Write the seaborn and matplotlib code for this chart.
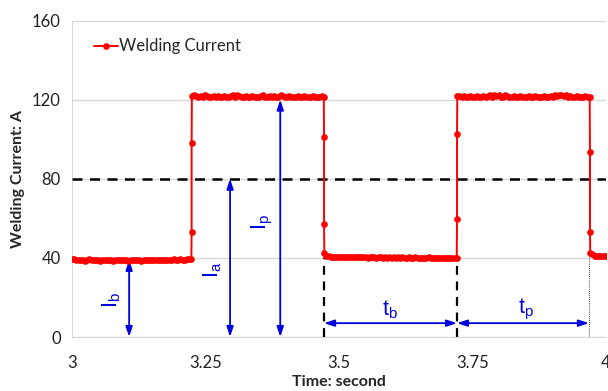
import numpy as np
import pandas as pd
import matplotlib
matplotlib.use("Agg")
import matplotlib.pyplot as plt
import seaborn as sns

# ---------------- data ----------------
base1_vals = [39.4, 39.2, 39.0, 38.8, 39.1, 38.9, 38.6, 38.9, 39.2, 38.8, 38.7, 39.0, 38.9, 38.6,
              38.8, 39.1, 38.7, 38.9, 38.8, 38.6, 38.9, 39.0, 38.7, 38.8, 39.1, 38.9, 38.6, 38.8,
              38.9, 38.7, 39.0, 38.8, 38.6, 38.9, 39.1, 38.8, 38.7, 38.9, 39.0, 38.8, 38.9, 39.1,
              38.8, 38.7, 39.0, 38.9, 39.1, 39.2, 38.9, 39.0, 39.2, 39.0, 39.1, 39.3, 39.2, 39.4]
rise1_vals = [53.0, 98.0]
peak1_vals = [121.8, 122.2, 121.6, 121.5, 121.7, 121.4, 122.3, 121.6, 121.5, 121.4, 121.7, 121.5,
              121.6, 121.4, 121.5, 121.8, 121.5, 121.4, 121.6, 122.4, 121.5, 122.3, 121.6, 121.4,
              121.5, 121.7, 121.5, 121.4, 121.6, 121.5, 121.5, 121.4, 121.6, 122.3, 121.5, 121.4,
              121.7, 121.5, 121.6, 121.5, 121.4, 122.2, 121.6, 121.5, 121.4, 121.6, 121.5, 121.4,
              121.5, 121.6, 121.4, 121.5, 121.6, 121.5, 121.4, 121.5, 121.6, 121.5, 121.4, 121.5,
              121.6, 121.5]
fall1_vals = [101.0, 57.0]
base2_vals = [42.3, 41.2, 40.8, 40.6, 40.5, 40.6, 40.4, 40.5, 40.3, 40.4, 40.5, 40.3, 40.4, 40.2,
              40.3, 40.4, 40.2, 40.3, 40.4, 40.2, 40.1, 40.3, 40.2, 40.4, 40.1, 40.2, 40.3, 40.1,
              40.2, 40.0, 40.3, 40.1, 40.2, 39.9, 40.2, 40.1, 40.3, 40.0, 40.1, 40.2, 40.0, 40.1,
              40.2, 40.0, 40.1, 39.9, 40.1, 40.0, 40.2, 40.0, 40.1, 39.9, 40.0, 40.1, 40.0, 39.9,
              40.0, 40.1, 40.0, 39.9, 40.0, 40.1]
rise2_vals = [59.7, 102.6]
peak2_vals = [121.6, 121.9, 121.5, 121.6, 121.4, 121.5, 121.7, 121.5, 121.4, 121.6, 121.5, 121.4,
              121.6, 121.5, 121.7, 122.3, 121.5, 122.4, 121.6, 122.2, 121.5, 121.4, 122.3, 121.6,
              121.5, 121.4, 121.6, 121.5, 121.4, 121.6, 121.5, 121.4, 121.5, 121.6, 121.4, 121.5,
              121.6, 121.5, 121.4, 121.5, 121.6, 121.5, 121.4, 121.6, 121.5, 122.2, 121.6, 122.4,
              122.3, 121.6, 122.2, 121.5, 121.6, 121.4, 121.5, 121.6, 121.5, 121.4, 121.5, 121.6,
              121.5, 121.4]
fall2_vals = [93.5, 53.0]
end_vals = [42.6, 41.8, 41.2, 41.0, 40.8, 40.9, 41.0, 40.9]

# segment time spans (s)
base1_span = (3.000, 3.2235)
rise1_time = 3.224
peak1_span = (3.2245, 3.4715)
fall1_time = 3.472
base2_span = (3.4725, 3.7205)
rise2_time = 3.721
peak2_span = (3.7215, 3.9695)
fall2_time = 3.970
end_span = (3.9705, 4.000)

threshold = 80
t_switch = [3.472, 3.721]
t_end = 3.968
Ib_pos, Ia_pos, Ip_pos = 3.107, 3.296, 3.390
Ib, Ia, Ip = 39, 80, 120

# ---------------- build table ----------------
times, vals = [], []
def add_span(span, v):
    times.extend(np.linspace(span[0], span[1], len(v)))
    vals.extend(v)
def add_edge(t, v):
    times.extend([t] * len(v))
    vals.extend(v)

add_span(base1_span, base1_vals)
add_edge(rise1_time, rise1_vals)
add_span(peak1_span, peak1_vals)
add_edge(fall1_time, fall1_vals)
add_span(base2_span, base2_vals)
add_edge(rise2_time, rise2_vals)
add_span(peak2_span, peak2_vals)
add_edge(fall2_time, fall2_vals)
add_span(end_span, end_vals)
df = pd.DataFrame({"Time": times, "Current": vals})

# ---------------- plot ----------------
sns.set_style("white")
plt.rcParams["font.family"] = ["Lato", "DejaVu Sans"]

fig = plt.figure(figsize=(6.08, 3.91), dpi=100)
ax = fig.add_axes([72 / 608, 1 - 337 / 391, (606 - 72) / 608, (337 - 20.5) / 391])

red = "#ff0000"
blue = "#0000dd"

sns.lineplot(data=df, x="Time", y="Current", ax=ax, estimator=None, sort=False,
             color=red, lw=1.4, marker="o", markersize=4.8, markeredgewidth=0,
             label="Welding Current", zorder=5)

ax.set_xlim(3, 4)
ax.set_ylim(0, 160)
ax.set_xticks([3, 3.25, 3.5, 3.75, 4])
ax.set_xticklabels(["3", "3.25", "3.5", "3.75", "4"])
ax.set_yticks([0, 40, 80, 120, 160])
ax.yaxis.grid(True, color="#d9d9d9", lw=1)
ax.xaxis.grid(False)
for s in ["top", "right"]:
    ax.spines[s].set_visible(False)
ax.spines["left"].set_color("#d9d9d9")
ax.spines["bottom"].set_color("#d9d9d9")
ax.tick_params(axis="both", length=0, labelsize=12, colors="#222222", pad=8)
ax.tick_params(axis="x", pad=13)

ax.set_xlabel("Time: second", fontsize=11.5, fontweight="bold", labelpad=3)
ax.set_ylabel("Welding Current: A", fontsize=11.5, fontweight="bold", labelpad=5)

# threshold dashed line
ax.axhline(threshold, color="black", lw=1.8, ls=(0, (4, 3)), zorder=3)
# switching dashed lines
for t in t_switch:
    ax.plot([t, t], [0, 40], color="black", lw=1.6, ls=(0, (4, 3)), zorder=3)
ax.plot([t_end, t_end], [0, 41], color="black", lw=0.6, ls=(0, (1, 1.5)), zorder=3)

arrow_kw = dict(arrowstyle="<|-|>,head_length=0.6,head_width=0.2", color=blue, lw=1.3,
                shrinkA=0, shrinkB=0, mutation_scale=10)
for xpos, top in [(Ib_pos, Ib), (Ia_pos, Ia), (Ip_pos, Ip)]:
    ax.annotate("", xy=(xpos, 0), xytext=(xpos, top), arrowprops=arrow_kw, zorder=4)
ax.annotate("", xy=(t_switch[0], 7), xytext=(t_switch[1], 7), arrowprops=arrow_kw, zorder=4)
ax.annotate("", xy=(t_switch[1], 7), xytext=(t_end, 7), arrowprops=arrow_kw, zorder=4)

lab_kw = dict(color=blue, fontsize=15.5, family="Liberation Sans", ha="center", va="center")
ax.text(3.075, 18.5, r"$\mathregular{I_b}$", rotation=90, **lab_kw)
ax.text(3.264, 34, r"$\mathregular{I_a}$", rotation=90, **lab_kw)
ax.text(3.356, 58, r"$\mathregular{I_p}$", rotation=90, **lab_kw)
ax.text(3.596, 14, r"$\mathregular{t_b}$", **lab_kw)
ax.text(3.851, 14, r"$\mathregular{t_p}$", **lab_kw)

leg = ax.legend(loc="upper left", bbox_to_anchor=(0.02, 0.98), frameon=False,
                fontsize=12, handlelength=1.4, handletextpad=0.1, borderaxespad=0.3)

fig.savefig("out.png", dpi=100)
